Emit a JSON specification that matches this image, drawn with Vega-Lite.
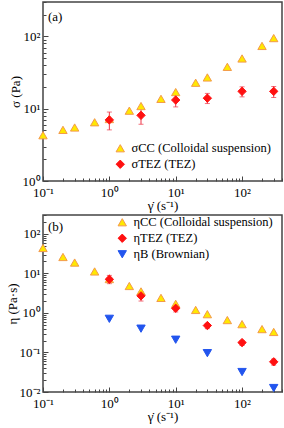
{
  "$schema": "https://vega.github.io/schema/vega-lite/v6.json",
  "padding": {"left": 5, "top": 0, "right": 1, "bottom": 0},
  "spacing": 0,
  "datasets": {
    "top": [
      {"series": "σCC (Colloidal suspension)", "x": 0.1, "y": 4.3},
      {"series": "σCC (Colloidal suspension)", "x": 0.2, "y": 5.1},
      {"series": "σCC (Colloidal suspension)", "x": 0.3, "y": 5.5},
      {"series": "σCC (Colloidal suspension)", "x": 0.6, "y": 6.5},
      {"series": "σCC (Colloidal suspension)", "x": 1, "y": 7.2},
      {"series": "σCC (Colloidal suspension)", "x": 2, "y": 9.4},
      {"series": "σCC (Colloidal suspension)", "x": 3, "y": 10.9},
      {"series": "σCC (Colloidal suspension)", "x": 6, "y": 13.7},
      {"series": "σCC (Colloidal suspension)", "x": 10, "y": 17},
      {"series": "σCC (Colloidal suspension)", "x": 20, "y": 22.9},
      {"series": "σCC (Colloidal suspension)", "x": 30, "y": 27.1},
      {"series": "σCC (Colloidal suspension)", "x": 60, "y": 38},
      {"series": "σCC (Colloidal suspension)", "x": 100, "y": 49.6},
      {"series": "σCC (Colloidal suspension)", "x": 200, "y": 74},
      {"series": "σCC (Colloidal suspension)", "x": 300, "y": 95},
      {"series": "σTEZ (TEZ)", "x": 1, "y": 7.0, "lo": 5.1, "hi": 9.0},
      {"series": "σTEZ (TEZ)", "x": 3, "y": 8.1, "lo": 6.1, "hi": 10.1},
      {"series": "σTEZ (TEZ)", "x": 10, "y": 13.2, "lo": 10.6, "hi": 15.8},
      {"series": "σTEZ (TEZ)", "x": 30, "y": 14.0, "lo": 11.8, "hi": 16.3},
      {"series": "σTEZ (TEZ)", "x": 100, "y": 17.4, "lo": 14.6, "hi": 20.1},
      {"series": "σTEZ (TEZ)", "x": 300, "y": 17.4, "lo": 14.3, "hi": 20.3}
    ],
    "bottom": [
      {"series": "ηCC (Colloidal suspension)", "x": 0.1, "y": 44},
      {"series": "ηCC (Colloidal suspension)", "x": 0.2, "y": 26},
      {"series": "ηCC (Colloidal suspension)", "x": 0.3, "y": 18.8},
      {"series": "ηCC (Colloidal suspension)", "x": 0.6, "y": 11.2},
      {"series": "ηCC (Colloidal suspension)", "x": 1, "y": 7.2},
      {"series": "ηCC (Colloidal suspension)", "x": 2, "y": 4.8},
      {"series": "ηCC (Colloidal suspension)", "x": 3, "y": 3.5},
      {"series": "ηCC (Colloidal suspension)", "x": 6, "y": 2.4},
      {"series": "ηCC (Colloidal suspension)", "x": 10, "y": 1.7},
      {"series": "ηCC (Colloidal suspension)", "x": 20, "y": 1.19},
      {"series": "ηCC (Colloidal suspension)", "x": 30, "y": 0.93},
      {"series": "ηCC (Colloidal suspension)", "x": 60, "y": 0.66},
      {"series": "ηCC (Colloidal suspension)", "x": 100, "y": 0.52},
      {"series": "ηCC (Colloidal suspension)", "x": 200, "y": 0.39},
      {"series": "ηCC (Colloidal suspension)", "x": 300, "y": 0.33},
      {"series": "ηTEZ (TEZ)", "x": 1, "y": 7.1, "lo": 5.5, "hi": 8.9},
      {"series": "ηTEZ (TEZ)", "x": 3, "y": 2.7, "lo": 2.0, "hi": 3.4},
      {"series": "ηTEZ (TEZ)", "x": 10, "y": 1.31, "lo": 1.06, "hi": 1.57},
      {"series": "ηTEZ (TEZ)", "x": 30, "y": 0.48, "lo": 0.4, "hi": 0.54},
      {"series": "ηTEZ (TEZ)", "x": 100, "y": 0.178, "lo": 0.15, "hi": 0.2},
      {"series": "ηTEZ (TEZ)", "x": 300, "y": 0.058, "lo": 0.048, "hi": 0.068},
      {"series": "ηB (Brownian)", "x": 1, "y": 0.71},
      {"series": "ηB (Brownian)", "x": 3, "y": 0.4},
      {"series": "ηB (Brownian)", "x": 10, "y": 0.21},
      {"series": "ηB (Brownian)", "x": 30, "y": 0.096},
      {"series": "ηB (Brownian)", "x": 100, "y": 0.032},
      {"series": "ηB (Brownian)", "x": 300, "y": 0.0126}
    ]
  },
  "resolve": {
    "scale": {"shape": "independent", "fill": "independent", "stroke": "independent", "x": "independent", "y": "independent"},
    "legend": {"shape": "independent", "fill": "independent", "stroke": "independent"}
  },
  "vconcat": [
    {
      "width": 239,
      "height": 179,
      "data": {"name": "top"},
      "layer": [
        {
          "transform": [{"filter": "isValid(datum.lo)"}],
          "mark": {"type": "errorbar", "color": "#EE3344", "ticks": {"size": 5}},
          "encoding": {
            "x": {"field": "x", "type": "quantitative", "scale": {"type": "log", "domain": [0.1, 400], "nice": false}, "axis": null},
            "y": {"field": "lo", "type": "quantitative", "scale": {"type": "log", "domain": [1, 300], "nice": false}, "axis": null},
            "y2": {"field": "hi"}
          }
        },
        {
          "mark": {"type": "point", "size": 70, "strokeWidth": 1, "opacity": 1},
          "encoding": {
            "x": {"field": "x", "type": "quantitative", "scale": {"type": "log", "domain": [0.1, 400], "nice": false},
              "axis": {"orient": "bottom", "values": [0.1, 1, 10, 100], "title": "γ̇ (s⁻¹)", "tickSize": -5, "labelPadding": 10, "labelFlush": false,
                "labelExpr": "datum.value < 0.5 ? '10⁻¹' : datum.value < 5 ? '10⁰' : datum.value < 50 ? '10¹' : '10²'"}},
            "y": {"field": "y", "type": "quantitative", "scale": {"type": "log", "domain": [1, 300], "nice": false},
              "axis": {"orient": "left", "values": [1, 10, 100], "title": "σ (Pa)", "tickSize": -5, "labelPadding": 8, "labelFlush": false,
                "labelExpr": "datum.value < 5 ? '10⁰' : datum.value < 50 ? '10¹' : '10²'"}},
            "shape": {"field": "series", "type": "nominal", "scale": {"domain": ["σCC (Colloidal suspension)", "σTEZ (TEZ)"], "range": ["triangle-up", "diamond"]},
              "legend": {"orient": "none", "legendX": 71, "legendY": 140, "title": null}},
            "fill": {"field": "series", "type": "nominal", "scale": {"domain": ["σCC (Colloidal suspension)", "σTEZ (TEZ)"], "range": ["#FFE800", "#FF1010"]},
              "legend": {"orient": "none", "legendX": 71, "legendY": 140, "title": null}},
            "stroke": {"field": "series", "type": "nominal", "scale": {"domain": ["σCC (Colloidal suspension)", "σTEZ (TEZ)"], "range": ["#F39A4A", "#FF1010"]},
              "legend": {"orient": "none", "legendX": 71, "legendY": 140, "title": null}}
          }
        },
        {
          "mark": {"type": "point", "opacity": 0},
          "encoding": {
            "x": {"field": "x", "type": "quantitative", "scale": {"type": "log", "domain": [0.1, 400], "nice": false},
              "axis": {"orient": "bottom", "values": [0.2, 0.3, 0.4, 0.5, 0.6, 0.7, 0.8, 0.9, 2, 3, 4, 5, 6, 7, 8, 9, 20, 30, 40, 50, 60, 70, 80, 90, 200, 300, 400], "labels": false, "title": null, "tickSize": -3}},
            "y": {"field": "y", "type": "quantitative", "scale": {"type": "log", "domain": [1, 300], "nice": false},
              "axis": {"orient": "left", "values": [2, 3, 4, 5, 6, 7, 8, 9, 20, 30, 40, 50, 60, 70, 80, 90, 200, 300], "labels": false, "title": null, "tickSize": -3}}
          }
        },
        {
          "data": {"values": [{"label": "(a)"}]},
          "mark": {"type": "text", "align": "left", "baseline": "middle", "fontSize": 13, "fontWeight": "normal", "color": "black"},
          "encoding": {
            "text": {"field": "label"},
            "x": {"datum": 0.119, "type": "quantitative", "axis": null},
            "y": {"datum": 186, "type": "quantitative", "axis": null}
          }
        }
      ],
      "resolve": {"axis": {"x": "independent", "y": "independent"}}
    },
    {
      "width": 239,
      "height": 177,
      "data": {"name": "bottom"},
      "layer": [
        {
          "transform": [{"filter": "isValid(datum.lo)"}],
          "mark": {"type": "errorbar", "color": "#EE3344", "ticks": {"size": 5}},
          "encoding": {
            "x": {"field": "x", "type": "quantitative", "scale": {"type": "log", "domain": [0.1, 400], "nice": false}, "axis": null},
            "y": {"field": "lo", "type": "quantitative", "scale": {"type": "log", "domain": [0.01, 300], "nice": false}, "axis": null},
            "y2": {"field": "hi"}
          }
        },
        {
          "mark": {"type": "point", "size": 70, "strokeWidth": 1, "opacity": 1},
          "encoding": {
            "x": {"field": "x", "type": "quantitative", "scale": {"type": "log", "domain": [0.1, 400], "nice": false},
              "axis": {"orient": "bottom", "values": [0.1, 1, 10, 100], "title": "γ̇ (s⁻¹)", "tickSize": -5, "labelPadding": 10, "labelFlush": false,
                "labelExpr": "datum.value < 0.5 ? '10⁻¹' : datum.value < 5 ? '10⁰' : datum.value < 50 ? '10¹' : '10²'"}},
            "y": {"field": "y", "type": "quantitative", "scale": {"type": "log", "domain": [0.01, 300], "nice": false},
              "axis": {"orient": "left", "values": [0.01, 0.1, 1, 10, 100], "title": "η (Pa·s)", "tickSize": -5, "labelPadding": 8, "labelFlush": false,
                "labelExpr": "datum.value < 0.05 ? '10⁻²' : datum.value < 0.5 ? '10⁻¹' : datum.value < 5 ? '10⁰' : datum.value < 50 ? '10¹' : '10²'"}},
            "shape": {"field": "series", "type": "nominal", "scale": {"domain": ["ηCC (Colloidal suspension)", "ηTEZ (TEZ)", "ηB (Brownian)"], "range": ["triangle-up", "diamond", "triangle-down"]},
              "legend": {"orient": "none", "legendX": 73, "legendY": 1, "title": null}},
            "fill": {"field": "series", "type": "nominal", "scale": {"domain": ["ηCC (Colloidal suspension)", "ηTEZ (TEZ)", "ηB (Brownian)"], "range": ["#FFE800", "#FF1010", "#2255EE"]},
              "legend": {"orient": "none", "legendX": 73, "legendY": 1, "title": null}},
            "stroke": {"field": "series", "type": "nominal", "scale": {"domain": ["ηCC (Colloidal suspension)", "ηTEZ (TEZ)", "ηB (Brownian)"], "range": ["#F39A4A", "#FF1010", "#2255EE"]},
              "legend": {"orient": "none", "legendX": 73, "legendY": 1, "title": null}}
          }
        },
        {
          "mark": {"type": "point", "opacity": 0},
          "encoding": {
            "x": {"field": "x", "type": "quantitative", "scale": {"type": "log", "domain": [0.1, 400], "nice": false},
              "axis": {"orient": "bottom", "values": [0.2, 0.3, 0.4, 0.5, 0.6, 0.7, 0.8, 0.9, 2, 3, 4, 5, 6, 7, 8, 9, 20, 30, 40, 50, 60, 70, 80, 90, 200, 300, 400], "labels": false, "title": null, "tickSize": -3}},
            "y": {"field": "y", "type": "quantitative", "scale": {"type": "log", "domain": [0.01, 300], "nice": false},
              "axis": {"orient": "left", "values": [0.02, 0.03, 0.04, 0.05, 0.06, 0.07, 0.08, 0.09, 0.2, 0.3, 0.4, 0.5, 0.6, 0.7, 0.8, 0.9, 2, 3, 4, 5, 6, 7, 8, 9, 20, 30, 40, 50, 60, 70, 80, 90, 200, 300], "labels": false, "title": null, "tickSize": -3}}
          }
        },
        {
          "data": {"values": [{"label": "(b)"}]},
          "mark": {"type": "text", "align": "left", "baseline": "middle", "fontSize": 13, "fontWeight": "normal", "color": "black"},
          "encoding": {
            "text": {"field": "label"},
            "x": {"datum": 0.119, "type": "quantitative", "axis": null},
            "y": {"datum": 150, "type": "quantitative", "axis": null}
          }
        }
      ],
      "resolve": {"axis": {"x": "independent", "y": "independent"}}
    }
  ],
  "config": {
    "font": "Liberation Serif",
    "view": {"stroke": "#444444", "strokeWidth": 1.5},
    "axis": {"grid": false, "domain": false, "labelFont": "Liberation Serif", "titleFont": "Liberation Serif", "labelFontSize": 13, "titleFontSize": 13, "titleFontWeight": "normal", "labelColor": "black", "titleColor": "black", "tickColor": "#444444", "tickWidth": 1, "titlePadding": 0},
    "legend": {"labelFont": "Liberation Serif", "labelFontSize": 12.5, "symbolSize": 70, "rowPadding": 3, "labelOffset": 5, "padding": 0, "symbolStrokeWidth": 1, "labelColor": "black", "labelLimit": 300}
  }
}
